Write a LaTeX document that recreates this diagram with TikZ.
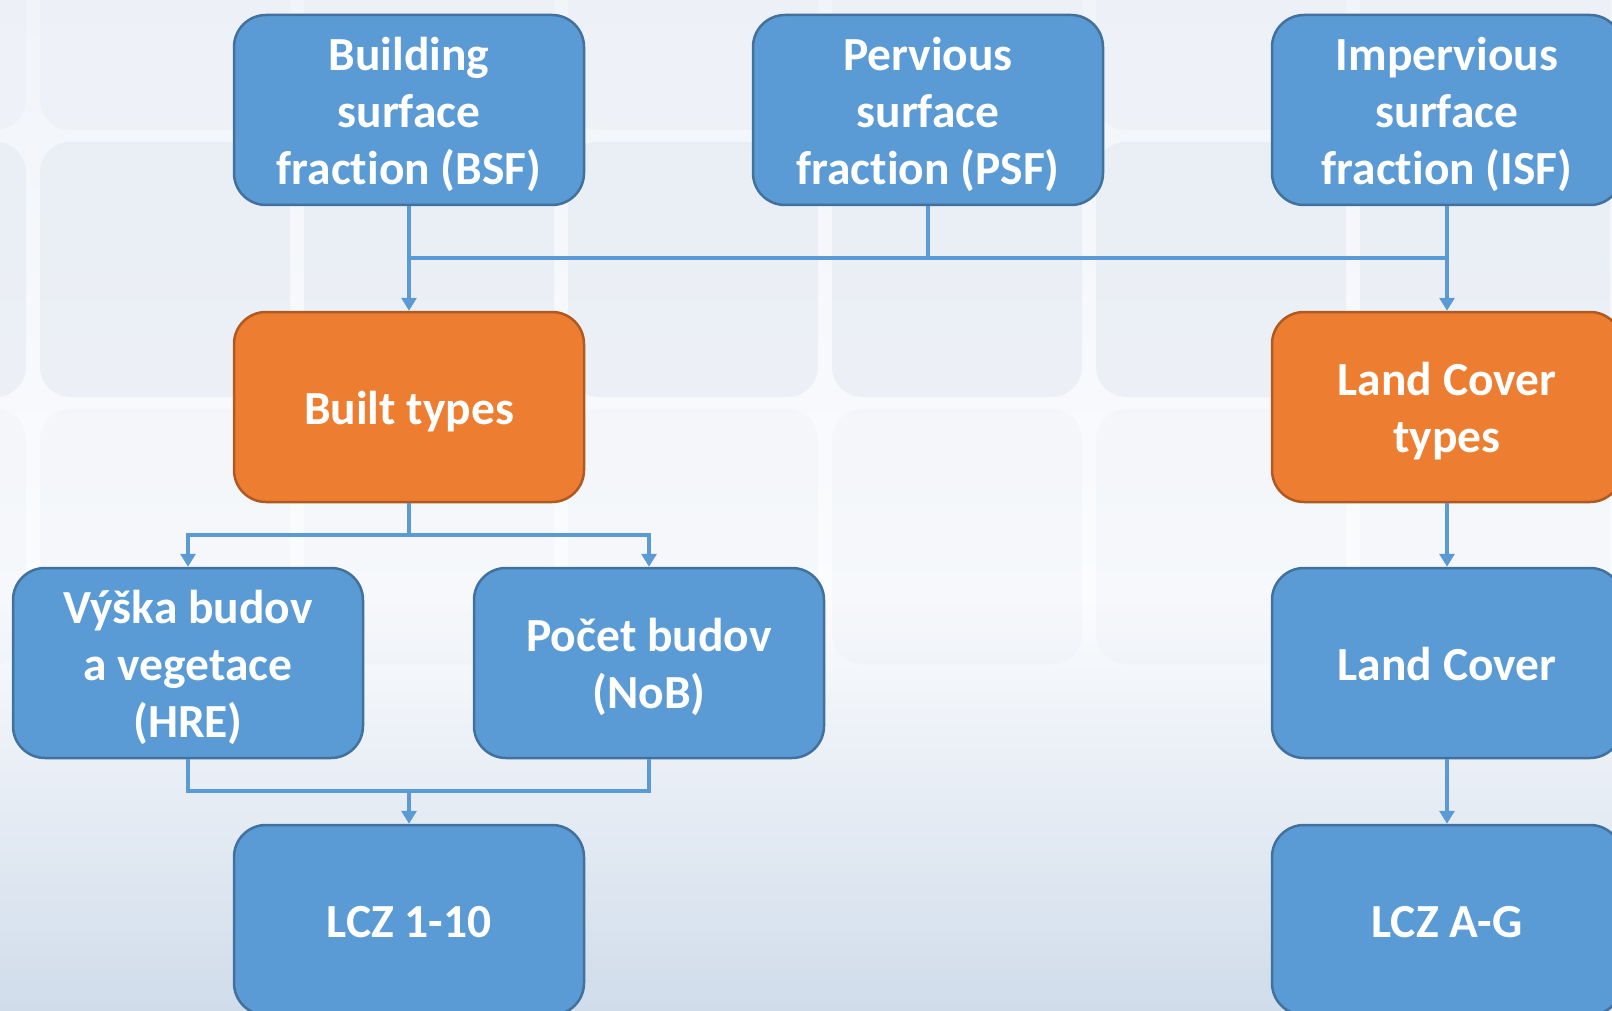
\documentclass[tikz,border=0pt]{standalone}
\usepackage{fontspec}
\newfontfamily\boxfont{Carlito}[Ligatures=NoCommon]
\usetikzlibrary{arrows.meta}
\definecolor{boxblue}{HTML}{5B9BD5}
\definecolor{boxblueline}{HTML}{41719C}
\definecolor{boxorange}{HTML}{ED7D31}
\definecolor{boxorangeline}{HTML}{AE5A21}
\definecolor{bgtop}{HTML}{F1F4F9}
\definecolor{bgmid}{HTML}{FBFCFE}
\definecolor{bgbot}{HTML}{D0DCEA}
\definecolor{tilecol}{HTML}{D8E0EC}
\newcommand{\bxt}[1]{\raisebox{-6pt}[\height][\depth]{\begin{tabular}{@{}c@{}}#1\end{tabular}}}
\begin{document}
\begin{tikzpicture}[x=1pt,y=-1pt,
  bluebox/.style={draw=boxblueline, fill=boxblue, line width=2.5pt, rounded corners=32pt,
    minimum width=350pt, minimum height=190pt, text=white,
    font=\boxfont\bfseries\fontsize{47.5}{57}\selectfont, inner sep=0pt},
  orangebox/.style={bluebox, draw=boxorangeline, fill=boxorange},
  conn/.style={draw=boxblue, line width=4.5pt},
  arr/.style={conn, -{Triangle[width=15pt,length=13pt]}},
]
\useasboundingbox (0,0) rectangle (1612,1011);
\clip (0,0) rectangle (1612,1011);
% background
\shade[top color=bgtop, bottom color=bgmid] (0,0) rectangle (1612,600);
\shade[top color=bgmid, bottom color=bgbot] (0,599) rectangle (1612,1012);
\foreach \c in {-1,...,5}{
  \foreach \r/\op in {0/0.15,1/0.35,2/0.12}{
    \fill[tilecol, opacity=\op, rounded corners=30pt]
      (40+264*\c, -125+267*\r) rectangle ++(250,255);
  }
}
% nodes
\node[bluebox] (bsf) at (409,110) {\bxt{Building\\surface\\fraction (BSF)}};
\node[bluebox] (psf) at (928,110) {\bxt{Pervious\\surface\\fraction (PSF)}};
\node[bluebox] (isf) at (1447,110) {\bxt{Impervious\\surface\\fraction (ISF)}};
\node[orangebox] (built) at (409,407) {\bxt{Built types}};
\node[orangebox] (lct) at (1447,407) {\bxt{Land Cover\\types}};
\node[bluebox] (hre) at (188,663) {\bxt{Výška budov\\a vegetace\\(HRE)}};
\node[bluebox] (nob) at (649,663) {\bxt{Počet budov\\(NoB)}};
\node[bluebox] (lc) at (1447,663) {\bxt{Land Cover}};
\node[bluebox] (lcz1) at (409,920) {\bxt{LCZ 1-10}};
\node[bluebox] (lcza) at (1447,920) {\bxt{LCZ A-G}};
% connectors
\coordinate (bus) at (0,258);
\coordinate (split) at (0,535);
\coordinate (merge) at (0,791);
\draw[conn] (bsf.south |- bus) -- (isf.south |- bus);
\draw[conn] (psf.south) -- (psf.south |- bus);
\draw[arr] (bsf.south) -- (built.north);
\draw[arr] (isf.south) -- (lct.north);
\draw[conn] (built.south) -- (built.south |- split);
\draw[arr] (built.south |- split) -| (hre.north);
\draw[arr] (built.south |- split) -| (nob.north);
\draw[conn] (hre.south) -- (hre.south |- merge) -- (nob.south |- merge) -- (nob.south);
\draw[arr] (lcz1.north |- merge) -- (lcz1.north);
\draw[arr] (lct.south) -- (lc.north);
\draw[arr] (lc.south) -- (lcza.north);
\end{tikzpicture}
\end{document}
